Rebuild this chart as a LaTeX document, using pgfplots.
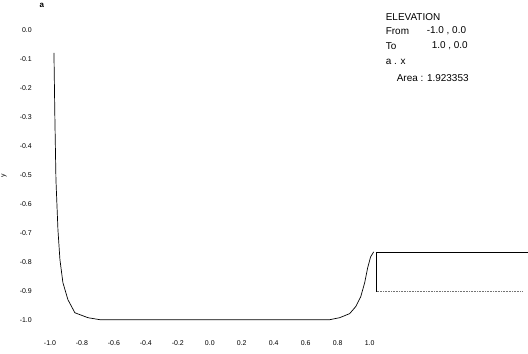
\documentclass[border=0pt]{standalone}
\usepackage{fontspec}
\setmainfont{Liberation Sans}
\usepackage{pgfplots}
\pgfplotsset{compat=1.18}
\begin{document}
\begin{tikzpicture}
\begin{axis}[
  scale only axis, width=528bp, height=354bp,
  xmin=-1.3125, xmax=1.9875, ymin=-1.1172, ymax=0.1034,
  axis line style={draw=none}, tick style={draw=none},
  clip=false,
  xtick={-1,-0.8,-0.6,-0.4,-0.2,0,0.2,0.4,0.6,0.8,1.0},
  ytick={0,-0.1,-0.2,-0.3,-0.4,-0.5,-0.6,-0.7,-0.8,-0.9,-1.0},
  xticklabel style={anchor=center, yshift=11bp, font=\fontsize{7}{8}\selectfont},
  yticklabel style={anchor=east, inner sep=0pt, xshift=32bp, font=\fontsize{7}{8}\selectfont},
  /pgf/number format/.cd, fixed, fixed zerofill, precision=1, assume math mode=true,
]
\addplot[black, line width=0.7pt] coordinates {
 (-0.975,-0.079) (-0.969,-0.31) (-0.9625,-0.517) (-0.95,-0.69) (-0.9375,-0.793)
 (-0.919,-0.872) (-0.8875,-0.931) (-0.844,-0.976) (-0.7625,-0.993) (-0.6875,-1.0)
 (0.75,-1.0) (0.8125,-0.993) (0.875,-0.979) (0.9125,-0.955) (0.944,-0.921)
 (0.969,-0.872) (0.9875,-0.821) (1.006,-0.783) (1.025,-0.766)};
\addplot[black, line width=1pt] coordinates {(1.044,-0.903) (1.044,-0.769) (1.9875,-0.769)};
\addplot[black!55, densely dotted, line width=0.6pt] coordinates {(1.044,-0.903) (1.96,-0.903)};
\node[font=\fontsize{8}{9}\selectfont\bfseries, inner sep=0pt] at (rel axis cs:{42/528},{1-5/354}) {a};
\node[font=\fontsize{7}{8}\selectfont, inner sep=0pt, rotate=90] at (rel axis cs:{4/528},{1-176/354}) {y};
\begin{scope}[every node/.style={font=\fontsize{10}{12}\selectfont, inner sep=0pt, anchor=west}]
\node at (rel axis cs:{386/528},{1-17/354}) {ELEVATION};
\node at (rel axis cs:{386/528},{1-31/354}) {From};
\node at (rel axis cs:{427/528},{1-31/354}) {-1.0 , 0.0};
\node at (rel axis cs:{386/528},{1-46/354}) {To};
\node at (rel axis cs:{432/528},{1-46/354}) {1.0 , 0.0};
\node at (rel axis cs:{386/528},{1-62/354}) {a . x};
\node at (rel axis cs:{397/528},{1-78/354}) {Area : 1.923353};
\end{scope}
\end{axis}
\end{tikzpicture}
\end{document}
